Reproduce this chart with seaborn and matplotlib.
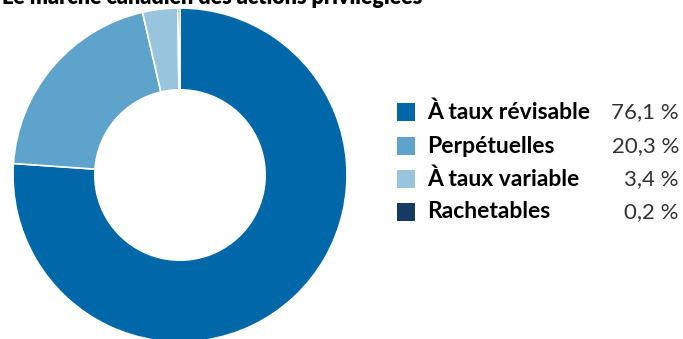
import matplotlib
matplotlib.use("Agg")
import matplotlib.pyplot as plt
import seaborn as sns

categories = ["À taux révisable", "Perpétuelles", "À taux variable", "Rachetables"]
values = [76.1, 20.3, 3.4, 0.2]
value_labels = ["76,1 %", "20,3 %", "3,4 %", "0,2 %"]
title = "Le marché canadien des actions privilégiées"

sns.set_theme(style="white")
plt.rcParams['font.family'] = ['Lato', 'DejaVu Sans']
colors = sns.color_palette(["#0068A9", "#5EA3CB", "#98C5DD", "#173A64"])

W, H = 683, 339
fig = plt.figure(figsize=(W / 100, H / 100), dpi=100)
fig.patch.set_facecolor("white")

cx, cy, r = 180, 175, 167
ax = fig.add_axes([(cx - r) / W, (H - cy - r) / H, 2 * r / W, 2 * r / H])
ax.pie(values, colors=colors, startangle=90, counterclock=False, radius=1,
       wedgeprops=dict(width=0.49, edgecolor="white", linewidth=1.2))
ax.set_xlim(-1, 1)
ax.set_ylim(-1, 1)
ax.set_aspect("auto")
ax.axis("off")

fig.text(2 / W, 1 - 4 / H, title, fontsize=15.5, fontweight="heavy", va="baseline", ha="left", color="black")

rows = [112, 146, 179, 212]
for cat, lab, col, y in zip(categories, value_labels, colors, rows):
    fig.patches.append(plt.Rectangle((397 / W, 1 - (y + 9) / H), 18 / W, 18 / H,
                                     transform=fig.transFigure, facecolor=col, edgecolor="none"))
    fig.text(427 / W, 1 - y / H, cat, fontsize=16.5, fontweight="bold", va="center", ha="left", color="black")
    fig.text(679 / W, 1 - y / H, lab, fontsize=16, va="center", ha="right", color="#333333")

fig.savefig("out.png", dpi=100, facecolor="white")
